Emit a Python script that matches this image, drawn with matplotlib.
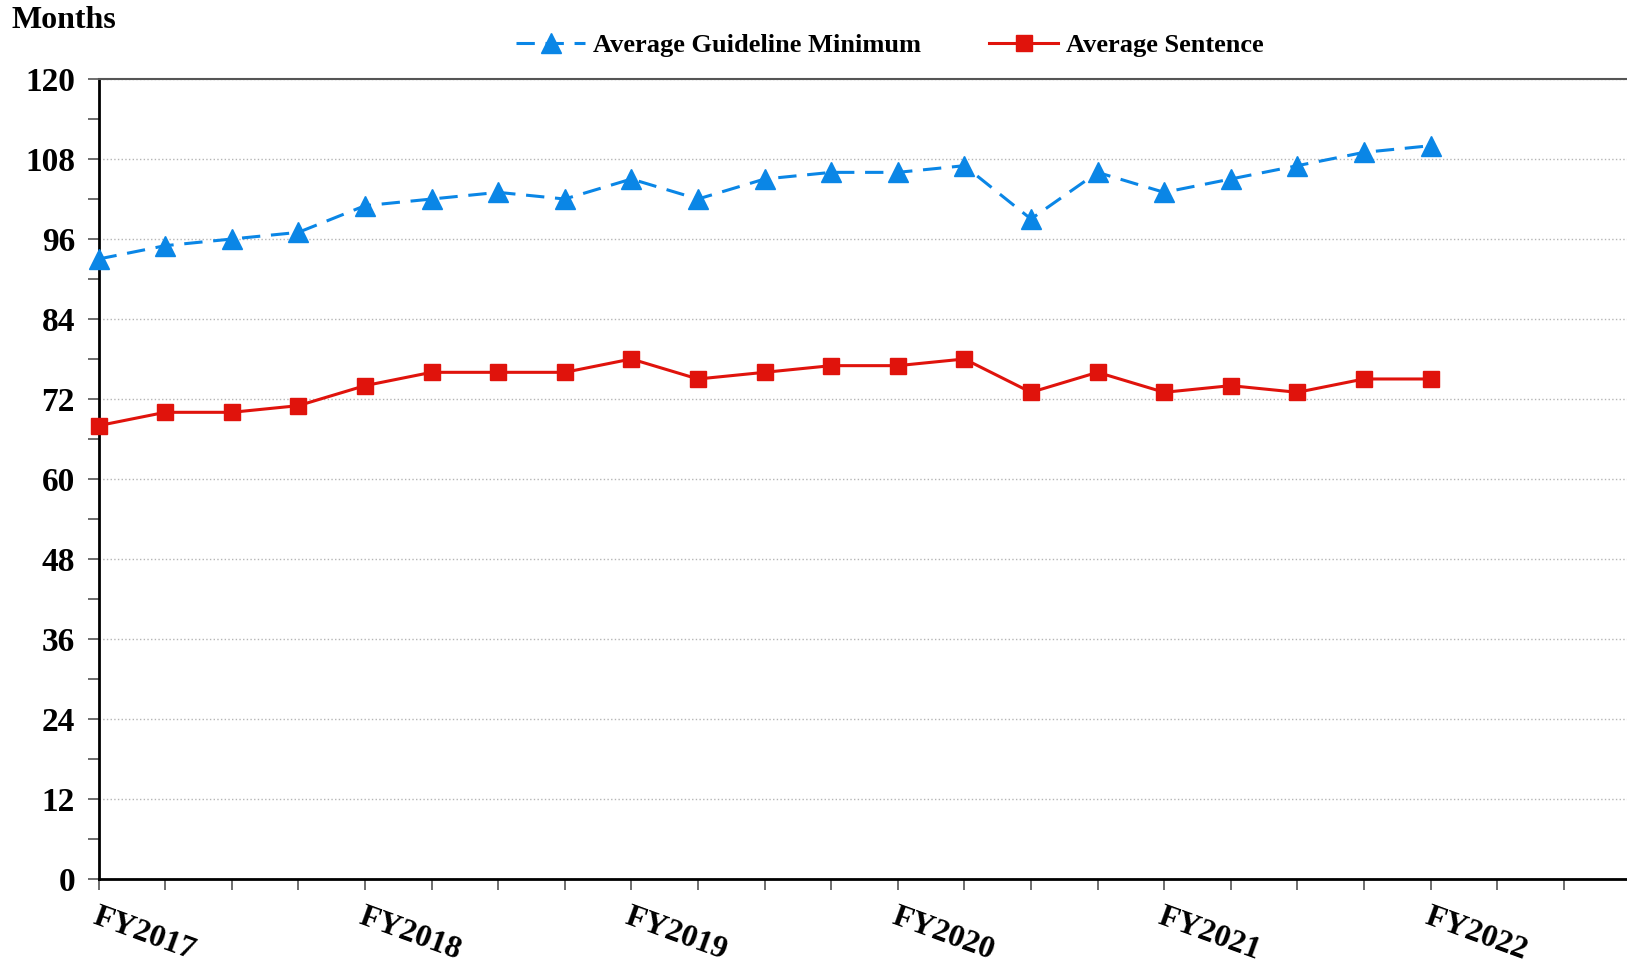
import numpy as np
import matplotlib.pyplot as plt
from matplotlib.ticker import MultipleLocator

plt.rcParams['font.family'] = ['Liberation Serif', 'DejaVu Serif']
plt.rcParams['font.weight'] = 'bold'

# quarterly values, FY2017 Q1 .. FY2022 Q1
guideline_min = [93, 95, 96, 97, 101, 102, 103, 102, 105, 102, 105,
                 106, 106, 107, 99, 106, 103, 105, 107, 109, 110]
avg_sentence = [68, 70, 70, 71, 74, 76, 76, 76, 78, 75, 76,
                77, 77, 78, 73, 76, 73, 74, 73, 75, 75]
year_labels = ['FY2017', 'FY2018', 'FY2019', 'FY2020', 'FY2021', 'FY2022']

blue = '#0A86E6'
red = '#E0130C'

fig = plt.figure(figsize=(16.27, 9.64), dpi=100)
ax = fig.add_axes([0.0606, 0.0883, 0.9394, 0.8297])

x = np.arange(len(guideline_min))
ax.plot(x, guideline_min, color=blue, lw=2.2, ls=(0, (6, 3.5)),
        marker='^', ms=14, label='Average Guideline Minimum', clip_on=False, zorder=3)
ax.plot(x, avg_sentence, color=red, lw=2.2, marker='s', ms=11,
        label='Average Sentence', clip_on=False, zorder=3)

ax.set_xlim(0, 22.95)
ax.set_ylim(0, 120)
ax.yaxis.set_major_locator(MultipleLocator(12))
ax.yaxis.set_minor_locator(MultipleLocator(6))
ax.set_xticks(np.arange(0, 23))
ax.set_xticklabels([year_labels[i // 4] if i % 4 == 0 and i // 4 < len(year_labels) else ''
                    for i in range(23)])

ax.grid(axis='y', which='major', color='#b5b5b5', ls=':', lw=1)
ax.set_axisbelow(True)

ax.spines['right'].set_visible(False)
ax.spines['top'].set_color('#555555')
ax.spines['top'].set_linewidth(1.5)
ax.spines['left'].set_linewidth(2)
ax.spines['bottom'].set_linewidth(2)

ax.tick_params(axis='y', which='major', length=8, width=1.2, color='#555555',
               labelsize=24, pad=9)
ax.tick_params(axis='y', which='minor', length=8, width=1.2, color='#555555')
ax.tick_params(axis='x', length=8, width=1.2, color='#555555', labelsize=23, pad=9)
for lbl in ax.get_yticklabels():
    lbl.set_fontweight('bold')
for lbl in ax.get_xticklabels():
    lbl.set_fontweight('bold')
    lbl.set_rotation(-20)
    lbl.set_ha('left')
    lbl.set_rotation_mode('anchor')

fig.text(0.007, 0.979, 'Months', fontsize=23, fontweight='bold', va='center', ha='left')

leg = fig.legend(loc='center', bbox_to_anchor=(0.547, 0.953), ncol=2, frameon=False,
                 prop={'size': 19, 'weight': 'bold'}, handlelength=2.6,
                 columnspacing=2.6, handletextpad=0.3)

fig.savefig('out.png', dpi=100)
